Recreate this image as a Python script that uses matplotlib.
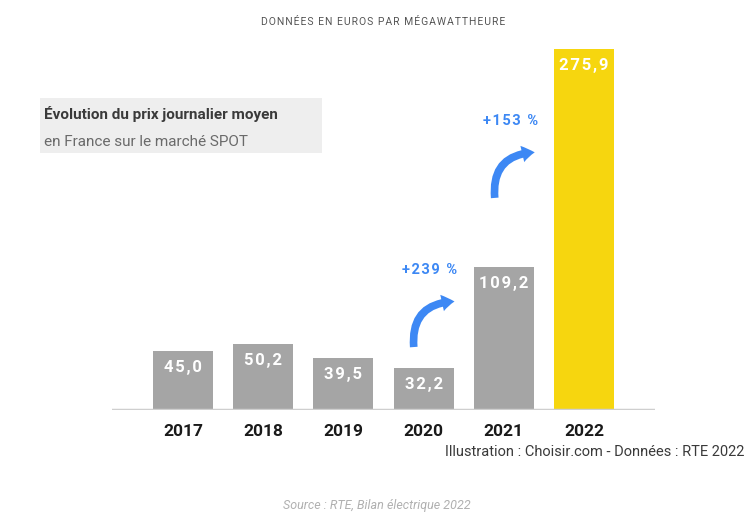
import matplotlib.pyplot as plt
from matplotlib.patches import FancyArrowPatch, Rectangle

plt.rcParams['font.family'] = ['Roboto', 'DejaVu Sans']

# données (euros / MWh)
years = ['2017', '2018', '2019', '2020', '2021', '2022']
prices = [45.0, 50.2, 39.5, 32.2, 109.2, 275.9]
labels = ['45,0', '50,2', '39,5', '32,2', '109,2', '275,9']
colors = ['#a5a5a5'] * 5 + ['#f6d60f']
hausses = ['+239 %', '+153 %']

blue = '#3d88f4'

fig = plt.figure(figsize=(7.49, 5.13), dpi=100)
ax = fig.add_axes([112 / 749, 103 / 513, 543 / 749, 392.5 / 513])

x = list(range(len(years)))
ax.bar(x, prices, width=0.75, color=colors, zorder=2)
ax.set_xlim(-0.885, 5.885)
ax.set_ylim(0, 300)

for xi, v, lab in zip(x, prices, labels):
    ax.annotate('\u200a'.join(lab), (xi, v), xytext=(0, -12), textcoords='offset points',
                ha='center', va='center', color='white', fontsize=12,
                fontweight='bold')

ax.axhline(0, color='#cfcfcf', lw=2.5, zorder=3)
for s in ax.spines.values():
    s.set_visible(False)
ax.set_yticks([])
ax.set_xticks(x)
ax.set_xticklabels(years, fontsize=12.5, fontweight='bold', color='#1a1a1a')
ax.tick_params(axis='x', length=0, pad=10)

# flèches de hausse
arrows = [((2.88, 46), (3.42, 83)), ((3.89, 160), (4.42, 197))]
for (p0, p1), txt in zip(arrows, hausses):
    ax.add_patch(FancyArrowPatch(p0, p1, connectionstyle='arc3,rad=-0.55',
                                 arrowstyle='simple,head_width=12,head_length=9,tail_width=5.5',
                                 color=blue, lw=0, zorder=4))
    ax.text(p0[0] + 0.2, p1[1] + 24, '\u200a'.join(txt), ha='center', va='center',
            color=blue, fontsize=10.5, fontweight='bold')

# textes
fig.text(383 / 749, 1 - 22 / 513, '\u200a'.join('DONNÉES EN EUROS PAR MÉGAWATTHEURE'),
         ha='center', va='center', fontsize=7.5, color='#555555')
fig.patches.append(Rectangle((40 / 749, 1 - 153 / 513), 282 / 749, 55 / 513,
                             transform=fig.transFigure, facecolor='#eeeeee',
                             edgecolor='none', zorder=0))
fig.text(44 / 749, 1 - 114 / 513, 'Évolution du prix journalier moyen',
         ha='left', va='center', fontsize=11, fontweight='bold', color='#3a3a3a')
fig.text(44 / 749, 1 - 142 / 513, 'en France sur le marché SPOT',
         ha='left', va='center', fontsize=11, color='#6a6a6a')
fig.text(744 / 749, 1 - 452 / 513, 'Illustration : Choisir.com - Données : RTE 2022',
         ha='right', va='center', fontsize=10.5, color='#3a3a3a')
fig.text(283 / 749, 1 - 505 / 513, 'Source : RTE, Bilan électrique 2022',
         ha='left', va='center', fontsize=9, style='italic', color='#b0b0b0')

fig.savefig('out.png', dpi=100)
